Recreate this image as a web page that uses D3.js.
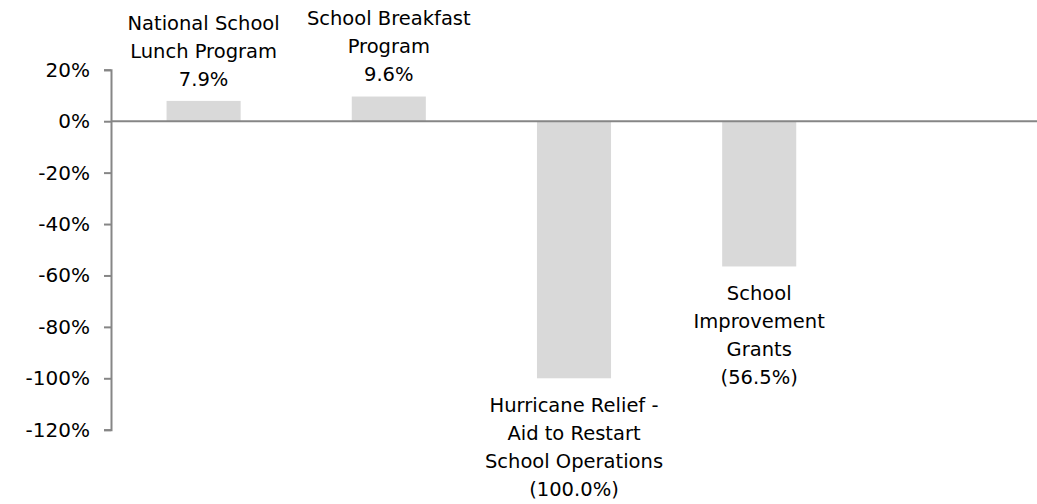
<!DOCTYPE html>
<html><head><meta charset="utf-8">
<script src="https://cdn.jsdelivr.net/npm/d3@7"></script>
<style>
html,body{margin:0;padding:0;background:#fff;}
svg text{font-family:"DejaVu Sans",sans-serif;fill:#000;}
</style></head>
<body><svg id="c" width="1037" height="504"></svg>
<script>
const categories = [
  ["National School","Lunch Program"],
  ["School Breakfast","Program"],
  ["Hurricane Relief -","Aid to Restart","School Operations"],
  ["School","Improvement","Grants"]
];
const values = [7.9, 9.6, -100.0, -56.5];
const valueLabels = ["7.9%","9.6%","(100.0%)","(56.5%)"];
const yTicks = [20,0,-20,-40,-60,-80,-100,-120];
const slots = 5;

const svg = d3.select("#c");
const x0 = 111, x1 = 1037;
const y = d3.scaleLinear().domain([-120,20]).range([429.7,69.8]);
const step = (x1-x0)/slots;
const x = d3.scaleBand().domain(d3.range(values.length)).range([x0, x0+step*values.length]).paddingInner(0.6).paddingOuter(0.3);

const fs = 19.5, tfs = 20;
// bars
svg.selectAll("rect.bar").data(values).join("rect")
  .attr("x",(d,i)=>x(i)).attr("width",x.bandwidth())
  .attr("y",d=>y(Math.max(0,d))).attr("height",d=>Math.abs(y(d)-y(0)))
  .attr("fill","#d9d9d9");

// y axis
const ax = svg.append("g").attr("transform",`translate(${x0},0)`)
  .call(d3.axisLeft(y).tickValues(yTicks).tickFormat(d=>d+"%").tickSize(7).tickPadding(14));
ax.select(".domain").attr("stroke","#868686").attr("stroke-width",2);
ax.selectAll(".tick line").attr("stroke","#868686").attr("stroke-width",2);
ax.selectAll(".tick text").attr("font-size",tfs).attr("font-family","DejaVu Sans").attr("fill","#000");

// zero line
svg.append("line").attr("x1",x0).attr("x2",x1).attr("y1",y(0)).attr("y2",y(0))
  .attr("stroke","#868686").attr("stroke-width",2);

// labels
const lh = 28;
values.forEach((v,i)=>{
  const lines = categories[i].concat([valueLabels[i]]);
  const cx = x(i)+x.bandwidth()/2;
  const t = svg.append("text").attr("text-anchor","middle").attr("font-size",fs);
  let startY;
  if (v>=0) startY = y(v) - 22 - (lines.length-1)*lh;
  else startY = y(v) + 27;
  lines.forEach((l,j)=>{
    t.append("tspan").attr("x",cx).attr("y",startY + j*lh).attr("dy","0.35em").text(l);
  });
});
</script></body></html>
